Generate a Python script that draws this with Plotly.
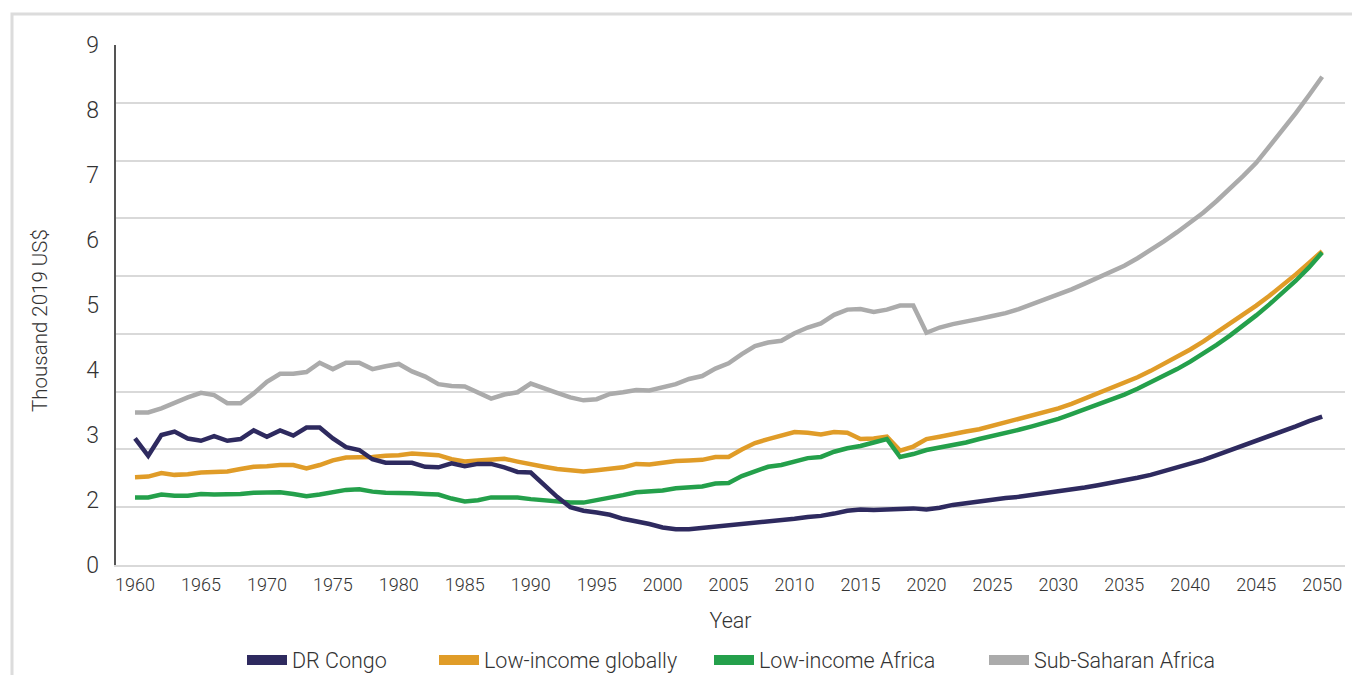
import numpy as np
import plotly.graph_objects as go

years = list(range(1960, 2051))

dr_congo = [
    2.19, 1.89, 2.25, 2.31, 2.19, 2.15, 2.23, 2.15, 2.18, 2.33,
    2.22, 2.33, 2.24, 2.38, 2.38, 2.19, 2.04, 1.99, 1.83, 1.77,
    1.77, 1.77, 1.70, 1.69, 1.76, 1.71, 1.75, 1.75, 1.69, 1.61,
    1.60, 1.38, 1.18, 1.00, 0.94, 0.91, 0.87, 0.80, 0.76, 0.71,
    0.65, 0.62, 0.62, 0.64, 0.67, 0.69, 0.71, 0.73, 0.75, 0.77,
    0.80, 0.83, 0.85, 0.89, 0.94, 0.96, 0.95, 0.96, 0.97, 0.98,
    0.96, 0.99, 1.04, 1.07, 1.10, 1.14, 1.16, 1.18, 1.21, 1.24,
    1.27, 1.30, 1.34, 1.38, 1.42, 1.46, 1.51, 1.56, 1.62, 1.68,
    1.74, 1.82, 1.90, 1.98, 2.07, 2.16, 2.24, 2.32, 2.40, 2.49,
    2.57,
]

low_income_global = [
    1.52, 1.53, 1.59, 1.56, 1.57, 1.60, 1.61, 1.62, 1.66, 1.70,
    1.71, 1.73, 1.73, 1.67, 1.73, 1.81, 1.86, 1.86, 1.87, 1.89,
    1.90, 1.93, 1.92, 1.90, 1.83, 1.79, 1.81, 1.83, 1.84, 1.79,
    1.74, 1.70, 1.66, 1.64, 1.62, 1.64, 1.67, 1.69, 1.75, 1.74,
    1.77, 1.80, 1.81, 1.82, 1.87, 1.87, 2.00, 2.11, 2.18, 2.25,
    2.30, 2.29, 2.26, 2.30, 2.29, 2.18, 2.19, 2.22, 1.98, 2.05,
    2.18, 2.22, 2.27, 2.31, 2.35, 2.41, 2.46, 2.52, 2.58, 2.64,
    2.71, 2.79, 2.88, 2.96, 3.05, 3.15, 3.25, 3.36, 3.48, 3.60,
    3.73, 3.87, 4.02, 4.17, 4.33, 4.49, 4.66, 4.84, 5.03, 5.23,
    5.43,
]

low_income_africa = [
    1.17, 1.17, 1.22, 1.20, 1.20, 1.23, 1.22, 1.22, 1.23, 1.25,
    1.26, 1.26, 1.23, 1.19, 1.22, 1.26, 1.30, 1.31, 1.27, 1.25,
    1.25, 1.24, 1.23, 1.22, 1.15, 1.10, 1.12, 1.17, 1.17, 1.17,
    1.14, 1.12, 1.10, 1.08, 1.08, 1.12, 1.17, 1.21, 1.26, 1.27,
    1.29, 1.33, 1.34, 1.36, 1.41, 1.42, 1.54, 1.63, 1.70, 1.73,
    1.79, 1.85, 1.87, 1.96, 2.02, 2.06, 2.12, 2.18, 1.87, 1.92,
    1.99, 2.03, 2.08, 2.12, 2.18, 2.23, 2.28, 2.34, 2.40, 2.46,
    2.53, 2.61, 2.69, 2.77, 2.86, 2.95, 3.05, 3.16, 3.27, 3.39,
    3.52, 3.66, 3.81, 3.97, 4.14, 4.32, 4.51, 4.71, 4.92, 5.15,
    5.41,
]

sub_saharan = [
    2.64, 2.64, 2.71, 2.81, 2.90, 2.98, 2.94, 2.80, 2.80, 2.97,
    3.17, 3.31, 3.31, 3.34, 3.50, 3.39, 3.50, 3.50, 3.39, 3.44,
    3.48, 3.35, 3.26, 3.13, 3.10, 3.09, 2.98, 2.88, 2.95, 2.99,
    3.14, 3.07, 2.98, 2.90, 2.85, 2.87, 2.96, 2.99, 3.03, 3.02,
    3.07, 3.13, 3.22, 3.27, 3.40, 3.49, 3.65, 3.79, 3.85, 3.88,
    4.01, 4.11, 4.18, 4.33, 4.42, 4.43, 4.38, 4.42, 4.49, 4.49,
    4.02, 4.11, 4.17, 4.21, 4.26, 4.31, 4.36, 4.43, 4.51, 4.59,
    4.68, 4.77, 4.87, 4.97, 5.07, 5.18, 5.31, 5.45, 5.60, 5.76,
    5.92, 6.10, 6.30, 6.51, 6.73, 6.96, 7.24, 7.52, 7.82, 8.13,
    8.45,
]

series_names = ['DR Congo', 'Low-income globally', 'Low-income Africa', 'Sub-Saharan Africa']
series_colors = ['#2e2a5f', '#e09c28', '#24a04b', '#ababab']

# labels as printed on the left axis (the "1" is missing in the original)
y_tick_labels = ['0', '2', '3', '4', '5', '6', '7', '8', '9']
x_tick_years = list(range(1960, 2051, 5))

font_family = 'Roboto, Liberation Sans, Arial, sans-serif'
text_color = '#333333'
grid_color = '#d9d9d9'

# the page body has an 8px margin, so screen positions are shifted by it;
# the figure is made a bit taller than the window so the legend has room
offset = 8
fig_w, fig_h = 1360, 700
plot_left, plot_right, plot_top, plot_bottom = 116 - offset, 1345 - offset, 45 - offset, 565 - offset
plot_w = plot_right - plot_left
plot_h = plot_bottom - plot_top


def px_x(x):
    return (x - offset - plot_left) / plot_w


def px_y(y):
    return (plot_bottom - (y - offset)) / plot_h


fig = go.Figure()

# draw order: grey at the back, navy on top
draw_order = [3, 1, 2, 0]
all_series = [dr_congo, low_income_global, low_income_africa, sub_saharan]
for i in draw_order:
    fig.add_trace(go.Scatter(
        x=years, y=all_series[i], mode='lines',
        line=dict(color=series_colors[i], width=4.5),
        name=series_names[i], showlegend=False, hoverinfo='skip'
    ))

# one legend per series, so the spacing can follow the original
legend_starts = [242, 434, 709, 984]
legend_ids = ['legend', 'legend2', 'legend3', 'legend4']
legend_layout = {}
for name, color, lid, xs in zip(series_names, series_colors, legend_ids, legend_starts):
    fig.add_trace(go.Scatter(
        x=[None], y=[None], mode='lines',
        line=dict(color=color, width=10),
        name=name, showlegend=True, legend=lid
    ))
    legend_layout[lid] = dict(
        orientation='h', x=px_x(xs), xanchor='left',
        y=px_y(660), yanchor='middle',
        font=dict(size=21.5, color=text_color), itemwidth=40,
        bgcolor='rgba(0,0,0,0)',
    )

fig.update_layout(
    width=fig_w, height=fig_h,
    margin=dict(l=plot_left, r=fig_w - plot_right, t=plot_top, b=fig_h - plot_bottom),
    paper_bgcolor='white', plot_bgcolor='white',
    font=dict(family=font_family, color=text_color, weight=300),
    xaxis=dict(
        range=[1958.56, 2051.73], automargin=False,
        tickvals=x_tick_years,
        ticks='', showgrid=False, zeroline=False,
        showline=True, linecolor=grid_color, linewidth=2,
        tickfont=dict(size=18, color=text_color),
        ticklabelstandoff=2,
        title=dict(text='Year', font=dict(size=21.5, color=text_color), standoff=19),
    ),
    yaxis=dict(
        range=[0, 9], dtick=1, automargin=False,
        showgrid=True, gridcolor=grid_color, gridwidth=1.5,
        zeroline=False, showticklabels=False, ticks='',
        showline=True, linecolor='#555555', linewidth=1.5,
    ),
    yaxis2=dict(
        overlaying='y', side='left', automargin=False,
        range=[0, 9],
        tickvals=list(np.linspace(0, 9, len(y_tick_labels))),
        ticktext=y_tick_labels,
        showgrid=False, zeroline=False, showline=False, ticks='',
        tickfont=dict(size=23, color=text_color),
        ticklabelstandoff=16,
    ),
    annotations=[dict(
        text='Thousand 2019 US$', textangle=-90,
        xref='paper', yref='paper', x=px_x(40), y=px_y(321),
        xanchor='center', yanchor='middle', showarrow=False,
        font=dict(size=20.5, color=text_color),
    )],
    shapes=[dict(
        type='rect', xref='paper', yref='paper',
        x0=px_x(12), x1=1.3,
        y0=-0.6, y1=px_y(14),
        line=dict(color='#dcdcdc', width=3), layer='below',
    )],
    **legend_layout,
)

# dummy trace so the label axis is laid out
fig.add_trace(go.Scatter(x=[None], y=[None], yaxis='y2', showlegend=False, hoverinfo='skip'))

fig.write_html('out.html')
